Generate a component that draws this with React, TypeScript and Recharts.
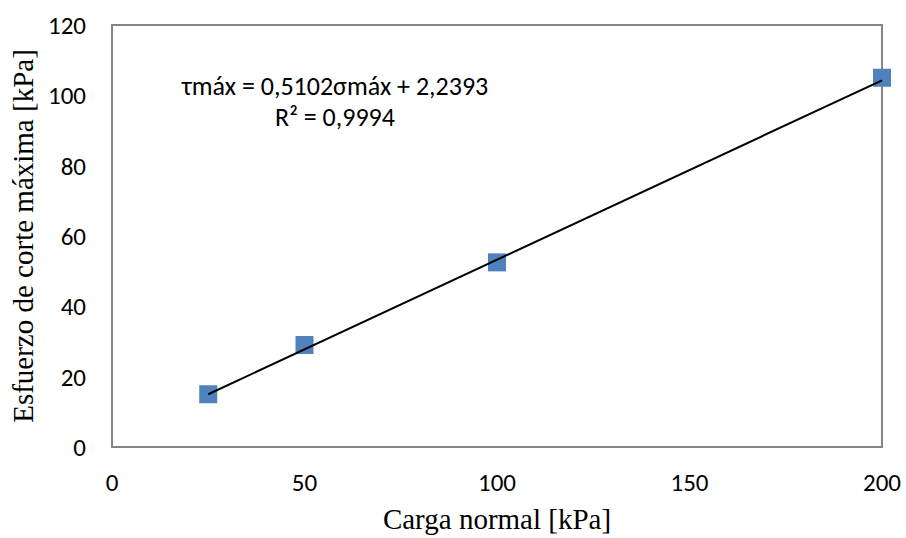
import React from 'react';
import { ScatterChart, Scatter, XAxis, YAxis, ReferenceArea, Label } from 'recharts';

const cargaNormal = [25, 50, 100, 200];
const esfuerzoCorte = [15, 29, 52.5, 105];
const xTicks = [0, 50, 100, 150, 200];
const yTicks = [0, 20, 40, 60, 80, 100, 120];
const slope = 0.5102;
const intercept = 2.2393;
const trendX = [25, 200];

const points = cargaNormal.map((x, i) => ({ x, y: esfuerzoCorte[i] }));
const trend = trendX.map((x) => ({ x, y: slope * x + intercept }));

const tickFont = "Carlito, Lato, 'Open Sans', sans-serif";
const serif = "'Liberation Serif', 'Times New Roman', serif";

const Square = (props: any) => (
  <rect x={props.cx - 9} y={props.cy - 9} width={18} height={18} fill="#4F81BD" />
);

export default function App() {
  return (
    <div style={{ position: 'absolute', left: 0, top: 0, width: 906, height: 538, background: '#fff' }}>
      <ScatterChart width={906} height={538} margin={{ top: 25, right: 24, bottom: 0, left: 0 }}>
        <XAxis
          type="number"
          dataKey="x"
          domain={[0, 200]}
          ticks={xTicks}
          tickLine={false}
          axisLine={{ stroke: '#868686', strokeWidth: 2 }}
          tick={{ fill: '#000', fontSize: 25, fontFamily: tickFont }}
          tickMargin={20}
          height={91}
        >
          <Label value="Carga normal [kPa]" position="insideBottom" offset={9} style={{ fontFamily: serif, fontSize: 29, fill: '#000' }} />
        </XAxis>
        <YAxis
          type="number"
          dataKey="y"
          domain={[0, 120]}
          ticks={yTicks}
          tickLine={false}
          axisLine={{ stroke: '#868686', strokeWidth: 2 }}
          tick={{ fill: '#000', fontSize: 25, fontFamily: tickFont }}
          tickMargin={20}
          width={112}
        >
          <Label value="Esfuerzo de corte máxima [kPa]" angle={-90} position="insideLeft" offset={23} style={{ fontFamily: serif, fontSize: 29, fill: '#000', textAnchor: 'middle' }} />
        </YAxis>
        <ReferenceArea x1={0} x2={200} y1={0} y2={120} fill="none" stroke="#868686" strokeWidth={2} />
        <Scatter data={points} shape={<Square />} isAnimationActive={false} />
        <Scatter data={trend} line={{ stroke: '#000', strokeWidth: 2 }} shape={() => null} isAnimationActive={false} />
      </ScatterChart>
      <div style={{ position: 'absolute', left: 135, top: 71, width: 400, textAlign: 'center', fontFamily: tickFont, fontSize: 26, lineHeight: '31px', color: '#000', whiteSpace: 'nowrap' }}>
        <div>τmáx = 0,5102σmáx + 2,2393</div>
        <div>R² = 0,9994</div>
      </div>
    </div>
  );
}
